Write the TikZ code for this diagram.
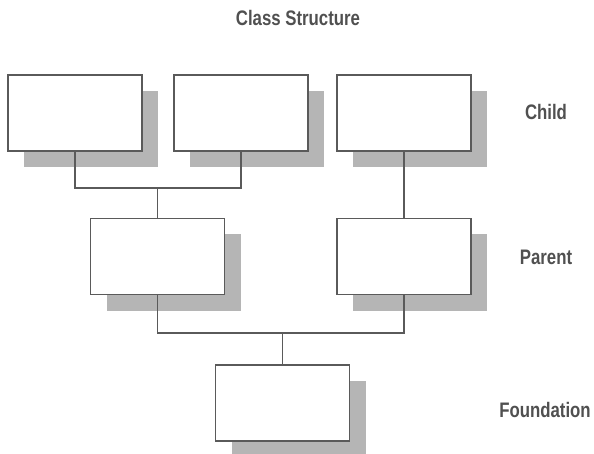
\documentclass[tikz,border=0pt]{standalone}
\usepackage{fontspec}
\newfontfamily\narrowfont[FakeStretch=0.8]{Liberation Sans}
\usetikzlibrary{shadows}
\definecolor{linegray}{HTML}{5A5A5A}
\definecolor{shadegray}{HTML}{B5B5B5}
\definecolor{textgray}{HTML}{505050}
\tikzset{
    box/.style={draw=linegray, line width=1.8pt, fill=white, minimum width=134pt, minimum height=76pt, inner sep=0pt,
        drop shadow={shadow xshift=16pt, shadow yshift=-16pt, fill=shadegray, opacity=1}}, % rectangle with grey shadow
    link/.style={draw=linegray, line width=1.8pt}, % connecting lines
    level/.style={text=textgray, font=\narrowfont\bfseries\fontsize{21}{25}\selectfont} % row names
}

\begin{document}
\begin{tikzpicture}[x=1pt, y=-1pt]
            \useasboundingbox (0,0) rectangle (594,454);

            \node[level] (title) at (298,18) {Class Structure};

            \node[box] (child1) at (75,113) {};
            \node[box] (child2) at (241,113) {};
            \node[box] (child3) at (404,113) {};
            \node[box] (parent1) at (157.5,256.5) {};
            \node[box] (parent2) at (404,256.5) {};
            \node[box] (found) at (282.5,403) {};

            \coordinate (join1) at (157.5,188);
            \coordinate (join2) at (282.5,333);

            \draw[link] (child1.south) |- (join1) -| (child2.south);
            \draw[link] (join1) -- (parent1.north);
            \draw[link] (child3.south) -- (parent2.north);
            \draw[link] (parent1.south) |- (join2) -| (parent2.south);
            \draw[link] (join2) -- (found.north);

            \node[level] (lchild) at (546,112) {Child};
            \node[level] (lparent) at (546,257) {Parent};
            \node[level] (lfound) at (545,410) {Foundation};
        \end{tikzpicture}
\end{document}
